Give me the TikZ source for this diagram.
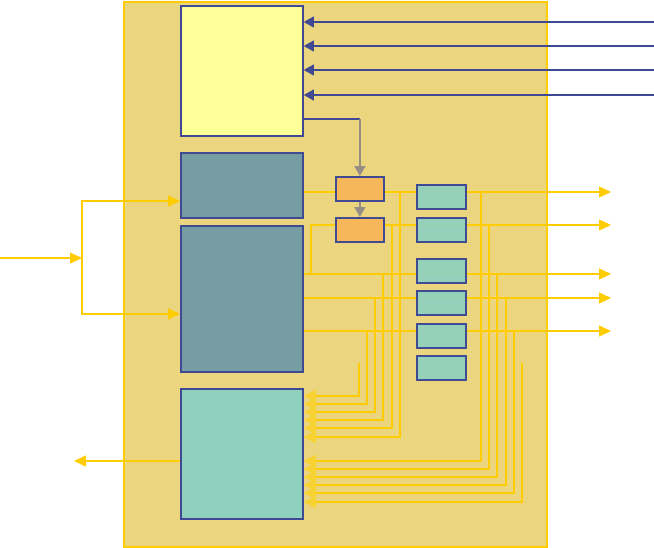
\documentclass[tikz,border=0pt]{standalone}
\usetikzlibrary{arrows.meta}
\pgfdeclarelayer{bottom}
\pgfdeclarelayer{lines}
\pgfsetlayers{bottom,lines,main}
\definecolor{bgfill}{HTML}{EBD67F}
\definecolor{yl}{HTML}{FFCC00}
\definecolor{tipy}{HTML}{F8D233}
\definecolor{topy}{HTML}{FFFF99}
\definecolor{dteal}{HTML}{769DA4}
\definecolor{lteal}{HTML}{8FD0BF}
\definecolor{orng}{HTML}{F5B75A}
\definecolor{bblue}{HTML}{3F4A92}
\definecolor{gry}{HTML}{968E85}
\begin{document}
\begin{tikzpicture}[x=1pt,y=-1pt,
  box/.style={draw=bblue, line width=1.8pt, inner sep=0pt, anchor=north west},
  bigbox/.style={box, minimum width=122pt},
  smallbox/.style={box, fill=lteal, fill opacity=0.93, minimum width=49pt, minimum height=24pt},
  orbox/.style={box, fill=orng, minimum width=48pt, minimum height=24pt},
  ymain/.style={draw=yl, line width=1.4pt},
  ythin/.style={draw=yl, line width=1.1pt},
  ythick/.style={draw=yl, line width=1.9pt},
  rarr/.style={-{Triangle[length=12pt,width=11pt]}},
  larr/.style={-{Triangle[length=12pt,width=12pt,color=tipy]}},
  bline/.style={draw=bblue, line width=1.3pt, -{Triangle[length=10pt,width=11pt]}},
  garr/.style={draw=gry, line width=1.5pt, -{Triangle[length=10pt,width=11pt]}}]
\useasboundingbox (0,0) rectangle (654,547);
% background panel
\begin{pgfonlayer}{bottom}
\node[draw=yl, fill=bgfill, line width=1.5pt, inner sep=0pt, anchor=north west,
  minimum width=423pt, minimum height=545pt] (panel) at (123,1) {};
\end{pgfonlayer}
% boxes
\node[bigbox, fill=topy, minimum height=130pt] (top) at (180,5) {};
\node[bigbox, fill=dteal, minimum height=65pt] (dt1) at (180,152) {};
\node[bigbox, fill=dteal, minimum height=146pt] (dt2) at (180,225) {};
\node[bigbox, fill=lteal, minimum height=130pt] (lt) at (180,388) {};
\node[orbox] (or1) at (335,176) {};
\node[orbox] (or2) at (335,217) {};
\node[smallbox] (s1) at (416,184) {};
\node[smallbox] (s2) at (416,217) {};
\node[smallbox] (s3) at (416,258) {};
\node[smallbox] (s4) at (416,290) {};
\node[smallbox] (s5) at (416,323) {};
\node[smallbox] (s6) at (416,355) {};
% free ends
\coordinate (in1) at (654,22);
\coordinate (in2) at (654,46);
\coordinate (in3) at (654,70);
\coordinate (in4) at (654,95);
\coordinate (out1) at (611,192);
\coordinate (out2) at (611,225);
\coordinate (out3) at (611,274);
\coordinate (out4) at (611,298);
\coordinate (out5) at (611,331);
\coordinate (inL) at (0,258);
\coordinate (split) at (82,258);
\coordinate (outL) at (74,461);
\coordinate (fa) at (359,363);
\coordinate (fb) at (522,363);
\begin{pgfonlayer}{lines}
% main outputs
\draw[ymain, rarr] (dt1.east |- out1) -- (out1);
\draw[ymain, rarr] (311,274) |- (out2);
\draw[ymain, rarr] (dt2.east |- out3) -- (out3);
\draw[ymain, rarr] (dt2.east |- out4) -- (out4);
\draw[ymain, rarr] (dt2.east |- out5) -- (out5);
% feedback into bottom box, left group
\draw[ythick, larr] (fa) |- (lt.east |- 0,396);
\draw[ythin, larr] (367,331) |- (lt.east |- 0,404);
\draw[ythin, larr] (375,298) |- (lt.east |- 0,412);
\draw[ythin, larr] (383,274) |- (lt.east |- 0,420);
\draw[ythick, larr] (392,225) |- (lt.east |- 0,428);
\draw[ythick, larr] (400,192) |- (lt.east |- 0,437);
% right group
\draw[ythin, larr] (481,192) |- (lt.east |- 0,461);
\draw[ythin, larr] (489,225) |- (lt.east |- 0,469);
\draw[ythin, larr] (497,274) |- (lt.east |- 0,477);
\draw[ythick, larr] (506,298) |- (lt.east |- 0,485);
\draw[ythick, larr] (514,331) |- (lt.east |- 0,493);
\draw[ythick, larr] (fb) |- (lt.east |- 0,502);
% left input and output
\draw[ymain, rarr] (inL) -- (split);
\draw[ymain, rarr] (split) |- (dt1.west |- 0,201);
\draw[ymain, rarr] (split) |- (dt2.west |- 0,314);
\draw[ymain, rarr] (lt.west |- outL) -- (outL);
\end{pgfonlayer}
% blue inputs
\draw[bline] (in1) -- (top.east |- in1);
\draw[bline] (in2) -- (top.east |- in2);
\draw[bline] (in3) -- (top.east |- in3);
\draw[bline] (in4) -- (top.east |- in4);
\draw[draw=bblue, line width=1.3pt] (top.east |- 0,119) -- (or1.north |- 0,119);
\draw[garr] (or1.north |- 0,119) -- (or1.north);
\draw[garr] (or1.south) -- (or2.north);
\end{tikzpicture}
\end{document}
